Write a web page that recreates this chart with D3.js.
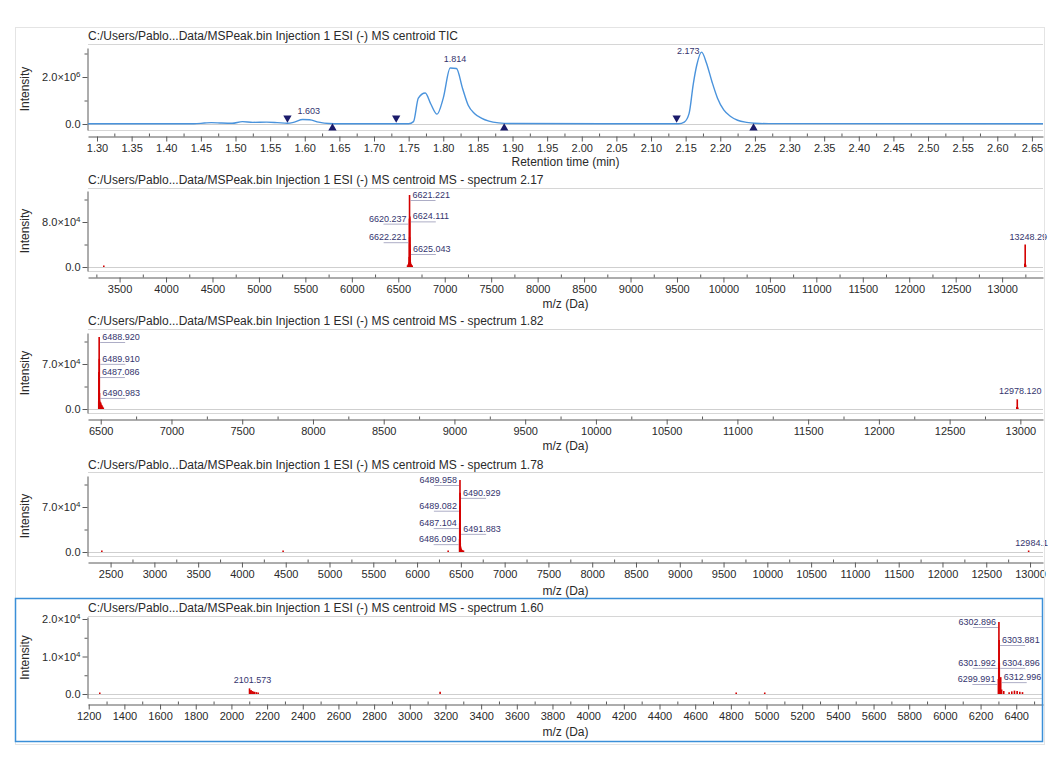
<!DOCTYPE html>
<html><head><meta charset="utf-8">
<script src="https://cdn.jsdelivr.net/npm/d3@7"></script>
<style>
body{margin:0;background:#fff}
text{font-family:"Liberation Sans",Arial,sans-serif}
</style>
</head><body>
<script>
// ================= DATA =================
const panelTitles = [
  "C:/Users/Pablo...Data/MSPeak.bin Injection 1 ESI (-) MS centroid TIC",
  "C:/Users/Pablo...Data/MSPeak.bin Injection 1 ESI (-) MS centroid MS - spectrum 2.17",
  "C:/Users/Pablo...Data/MSPeak.bin Injection 1 ESI (-) MS centroid MS - spectrum 1.82",
  "C:/Users/Pablo...Data/MSPeak.bin Injection 1 ESI (-) MS centroid MS - spectrum 1.78",
  "C:/Users/Pablo...Data/MSPeak.bin Injection 1 ESI (-) MS centroid MS - spectrum 1.60"
];
const xAxisTitles = ["Retention time (min)", "m/z (Da)", "m/z (Da)", "m/z (Da)", "m/z (Da)"];
const yAxisTitle = "Intensity";

// TIC chromatogram
const ticTime = [1.287,1.44,1.455,1.465,1.48,1.495,1.51,1.525,1.545,1.56,1.575,1.585,1.597,1.607,1.62,1.635,1.65,1.75,1.757,1.764,1.774,1.782,1.791,1.80,1.81,1.819,1.828,1.836,1.845,1.855,1.866,1.88,1.90,2.14,2.148,2.155,2.161,2.166,2.173,2.18,2.188,2.196,2.205,2.215,2.225,2.238,2.25,2.27,2.666];
const ticIntensity = [0.01e6,0.01e6,0.04e6,0.06e6,0.04e6,0.03e6,0.1e6,0.07e6,0.08e6,0.06e6,0.03e6,0.08e6,0.19e6,0.18e6,0.08e6,0.02e6,0.01e6,0.01e6,0.1e6,1.1e6,1.32e6,0.85e6,0.42e6,1.1e6,2.38e6,2.36e6,1.5e6,0.8e6,0.45e6,0.25e6,0.12e6,0.05e6,0.02e6,0.01e6,0.08e6,0.45e6,1.7e6,2.5e6,3.06e6,2.6e6,1.8e6,1.1e6,0.6e6,0.32e6,0.16e6,0.07e6,0.03e6,0.015e6,0.01e6];
const ticPeakTimes = [1.603, 1.814, 2.173];
const ticPeakLabels = ["1.603", "1.814", "2.173"];
const ticPeakHeights = [0.19e6, 2.38e6, 3.06e6];
const ticPeakStart = [1.575, 1.732, 2.137];
const ticPeakEnd = [1.640, 1.888, 2.248];
const ticXTicks = d3.range(1.30, 2.6501, 0.05);
const ticXMinor = d3.range(1.325, 2.67, 0.05);
const ticYTicks = [0, 2e6];
const ticYMinor = [1e6, 3e6];

// Spectrum 2.17
const s217Mz  = [3330, 6600, 6608, 6614, 6618, 6620.237, 6621.221, 6622.221, 6623.2, 6624.111, 6625.043, 6627, 6630, 6634, 6638, 6643, 6650, 13244, 13248.29, 13253];
const s217Int = [1.5e3, 3e3, 5e3, 8e3, 1.8e4, 8.6e4, 1.28e5, 5.3e4, 4.0e4, 9.0e4, 3.2e4, 1.4e4, 9e3, 6e3, 5e3, 3e3, 2e3, 6e3, 4.0e4, 4e3];
const s217Labels = ["6621.221","6620.237","6624.111","6622.221","6625.043","13248.29"];
const s217XTicks = d3.range(3500, 13001, 500);
const s217XMinor = d3.range(3250, 13400, 500);
const s217YTicks = [0, 8e4];
const s217YMinor = [4e4, 1.2e5];

// Spectrum 1.82
const s182Mz  = [6486, 6487.086, 6488.920, 6489.910, 6490.983, 6492, 6494, 6497, 6500, 6504, 6508, 6512, 6518, 12975, 12978.12, 12982];
const s182Int = [1.2e4, 5.75e4, 1.12e5, 7.8e4, 2.5e4, 1.3e4, 1.1e4, 9e3, 1.0e4, 7e3, 6e3, 4e3, 2e3, 3e3, 1.5e4, 2e3];
const s182Labels = ["6488.920","6489.910","6487.086","6490.983","12978.120"];
const s182XTicks = d3.range(6500, 13001, 500);
const s182XMinor = d3.range(6750, 13200, 500);
const s182YTicks = [0, 7e4];
const s182YMinor = [3.5e4, 1.05e5];

// Spectrum 1.78
const s178Mz  = [2400, 4470, 6355, 6486.090, 6487.104, 6488.1, 6489.082, 6489.958, 6490.929, 6491.883, 6493, 6495, 6498, 6502, 6507, 6512, 6520, 6530, 12984.1];
const s178Int = [1e3, 1.2e3, 2e3, 2.0e4, 4.5e4, 3.0e4, 7.2e4, 1.12e5, 9.2e4, 3.6e4, 1.5e4, 9e3, 7e3, 5e3, 4e3, 3e3, 2.5e3, 2e3, 2e3];
const s178Labels = ["6489.958","6490.929","6489.082","6487.104","6491.883","6486.090","12984.1"];
const s178XTicks = d3.range(2500, 13001, 500);
const s178XMinor = d3.range(2750, 13200, 500);
const s178YTicks = [0, 7e4];
const s178YMinor = [3.5e4, 1.05e5];

// Spectrum 1.60
const s160Mz  = [1262, 2101.573, 2105, 2110, 2116, 2122, 2130, 2140, 2150, 3170, 4830, 4990, 6299.991, 6301.992, 6302.896, 6303.881, 6304.896, 6306, 6308, 6312.996, 6318, 6330, 6360, 6375, 6390, 6405, 6420, 6435];
const s160Int = [300, 1500, 900, 1100, 800, 700, 600, 500, 400, 600, 300, 400, 4.0e3, 8.3e3, 1.92e4, 1.44e4, 8.3e3, 3e3, 2e3, 4.5e3, 1.2e3, 800, 500, 700, 900, 800, 600, 500];
const s160Labels = ["2101.573","6302.896","6303.881","6301.992","6304.896","6299.991","6312.996"];
const s160XTicks = d3.range(1200, 6401, 200);
const s160XMinor = d3.range(1300, 6600, 200);
const s160YTicks = [0, 1e4, 2e4];
const s160YMinor = [5e3, 1.5e4];

// ================= LAYOUT =================
const W = 1050, H = 757, PX0 = 88, PX1 = 1043;
const layouts = [
  {titleY:40,  frameTop:44,  plotTop:48,  y0:124, refPx:77,  plotBottom:130, axisY:136, axisTitleY:166},
  {titleY:184, frameTop:188, plotTop:191, y0:267, refPx:222, plotBottom:271, axisY:277, axisTitleY:308},
  {titleY:325, frameTop:329, plotTop:333, y0:409, refPx:364, plotBottom:413, axisY:419, axisTitleY:450},
  {titleY:469, frameTop:472, plotTop:476, y0:552, refPx:507, plotBottom:556, axisY:562, axisTitleY:595},
  {titleY:612, frameTop:616, plotTop:617, y0:694, refPx:619, plotBottom:698, axisY:704, axisTitleY:736}
];
const xDomains = [[1.287, 2.666], [3160, 13440], [6410, 13160], [2242, 13148], [1196, 6550]];
// label side for each labelled peak: R right, L left, C centred above
const labelSides = [
  null,
  ["R","L","R","L","R","C"],
  ["R","R","R","R","C"],
  ["L","R","L","L","R","L","C"],
  ["C","L","R","L","R","L","R"]
];

const C = {
  axis:"#5a5a5a", frame:"#d6d6d6", base:"#cfcfcf", text:"#2a2a2a",
  tic:"#4a93dc", marker:"#1b1b6b", bar:"#d40000", label:"#34346e", leader:"#8a8aae"
};

const svg = d3.select("body").append("svg").attr("width", W).attr("height", H);
svg.append("rect").attr("width", W).attr("height", H).attr("fill", "#fff");
svg.append("defs").append("clipPath").attr("id","clipAll")
  .append("rect").attr("x",0).attr("y",0).attr("width",1048).attr("height",H);
const root = svg.append("g").attr("clip-path","url(#clipAll)");

// outer light border + highlighted last panel
svg.append("rect").attr("x",15.5).attr("y",27.5).attr("width",1029).attr("height",717)
  .attr("fill","none").attr("stroke","#e4e4e4");
svg.append("rect").attr("x",15.5).attr("y",598.5).attr("width",1027).attr("height",143)
  .attr("fill","none").attr("stroke","#3b8fd8").attr("stroke-width",1.5);

function fmtSci(d){
  if (d === 0) return {m:"0.0", e:null};
  const e = Math.floor(Math.log10(d) + 1e-9);
  return {m:(d/Math.pow(10,e)).toFixed(1) + "\u00d710", e:String(e)};
}

function drawFrame(i, xDomain, yTicks, yMinor, refVal, xTicks, xMinor, xFmt){
  const L = layouts[i];
  const g = root.append("g");
  const x = d3.scaleLinear().domain(xDomain).range([PX0, PX1]);
  const k = (L.y0 - L.refPx) / refVal;
  const y = d3.scaleLinear()
    .domain([(L.y0 - L.plotBottom)/k, (L.y0 - L.plotTop)/k])
    .range([L.plotBottom, L.plotTop]);

  g.append("text").attr("x", PX0).attr("y", L.titleY).attr("font-size", 12)
    .attr("fill", C.text).text(panelTitles[i]);
  g.append("line").attr("x1", PX0).attr("x2", PX1).attr("y1", L.frameTop+0.5).attr("y2", L.frameTop+0.5)
    .attr("stroke", C.frame);
  g.append("line").attr("x1", PX0).attr("x2", PX1).attr("y1", L.plotBottom+0.5).attr("y2", L.plotBottom+0.5)
    .attr("stroke", C.frame);
  g.append("line").attr("x1", PX0).attr("x2", PX1).attr("y1", Math.round(y(0))+0.5).attr("y2", Math.round(y(0))+0.5)
    .attr("stroke", C.base);

  // y axis
  const ya = g.append("g").attr("transform", `translate(${PX0-0.5},0)`)
    .call(d3.axisLeft(y).tickValues(yTicks).tickSize(5).tickPadding(2).tickSizeOuter(0).tickFormat(""));
  ya.selectAll(".tick text").each(function(d){
    const t = d3.select(this), f = fmtSci(d);
    t.append("tspan").text(f.m);
    if (f.e) t.append("tspan").attr("dy","-0.5em").attr("font-size",8).text(f.e);
  });
  g.append("g").attr("transform", `translate(${PX0-0.5},0)`)
    .call(d3.axisLeft(y).tickValues(yMinor).tickSize(3).tickSizeOuter(0).tickFormat(""))
    .select(".domain").remove();
  ya.selectAll("text").attr("font-size", 11).attr("fill", C.text).attr("font-family","Liberation Sans, Arial, sans-serif");

  // x axis
  const xa = g.append("g").attr("transform", `translate(0,${L.axisY+0.5})`)
    .call(d3.axisBottom(x).tickValues(xTicks).tickSize(5).tickPadding(3).tickSizeOuter(0).tickFormat(xFmt));
  xa.selectAll("text").attr("font-size", 11).attr("fill", C.text).attr("font-family","Liberation Sans, Arial, sans-serif");
  g.append("g").attr("transform", `translate(0,${L.axisY+0.5})`)
    .call(d3.axisBottom(x).tickValues(xMinor.filter(v => v > xDomain[0] && v < xDomain[1])).tickSize(-3).tickSizeOuter(0).tickFormat(""))
    .select(".domain").remove();
  g.selectAll(".domain, .tick line").attr("stroke", C.axis);

  g.append("text").attr("x", (PX0+PX1)/2).attr("y", L.axisTitleY).attr("text-anchor","middle")
    .attr("font-size", 12).attr("fill", C.text).text(xAxisTitles[i]);
  g.append("text").attr("transform", `translate(29,${(L.plotTop+L.plotBottom)/2}) rotate(-90)`)
    .attr("text-anchor","middle").attr("font-size", 12).attr("fill", C.text).text(yAxisTitle);
  return {g, x, y};
}

// ---- Panel 1: TIC ----
(function(){
  const {g, x, y} = drawFrame(0, xDomains[0], ticYTicks, ticYMinor, 2e6, ticXTicks, ticXMinor, d3.format(".2f"));
  const pts = ticTime.map((t, j) => [t, ticIntensity[j]]);
  g.append("path").datum(pts)
    .attr("d", d3.line().x(d => x(d[0])).y(d => y(d[1])).curve(d3.curveMonotoneX))
    .attr("fill","none").attr("stroke", C.tic).attr("stroke-width", 1.4);
  const tri = d3.symbol().type(d3.symbolTriangle).size(30);
  ticPeakStart.forEach(t => g.append("path").attr("d", tri())
    .attr("transform", `translate(${x(t)},${y(0)-6}) rotate(180)`).attr("fill", C.marker));
  ticPeakEnd.forEach(t => g.append("path").attr("d", tri())
    .attr("transform", `translate(${x(t)},${y(0)+4})`).attr("fill", C.marker));
  ticPeakTimes.forEach((t, j) => {
    const last = j === ticPeakTimes.length - 1;
    g.append("text").attr("x", last ? x(t) - 2 : x(t) + 2)
      .attr("y", last ? y(ticPeakHeights[j]) + 2 : y(ticPeakHeights[j]) - 6)
      .attr("text-anchor", last ? "end" : "middle")
      .attr("font-size", 9).attr("fill", C.label).text(ticPeakLabels[j]);
  });
})();

// ---- Spectrum panels ----
function drawSpectrum(i, mz, inten, labels, yTicks, yMinor, refVal, xTicks, xMinor){
  const {g, x, y} = drawFrame(i, xDomains[i], yTicks, yMinor, refVal, xTicks, xMinor, d3.format("d"));
  const data = mz.map((m, j) => ({m, v: inten[j]}));
  g.append("g").selectAll("line").data(data).join("line")
    .attr("x1", d => x(d.m)).attr("x2", d => x(d.m))
    .attr("y1", y(0)).attr("y2", d => Math.min(y(d.v), y(0) - 1.5))
    .attr("stroke", C.bar).attr("stroke-width", 1.6);
  const sides = labelSides[i];
  labels.forEach((lab, j) => {
    const m = +lab;
    const d = data.reduce((a, b) => Math.abs(b.m - m) < Math.abs(a.m - m) ? b : a);
    const px = x(d.m), py = y(d.v), s = sides[j];
    const t = g.append("text").attr("font-size", 9).attr("fill", C.label).text(lab);
    if (s === "C") {
      t.attr("x", px + 3).attr("y", py - 5).attr("text-anchor", "middle");
    } else {
      const dir = s === "R" ? 1 : -1;
      t.attr("x", px + dir*3).attr("y", py + 3).attr("text-anchor", s === "R" ? "start" : "end");
      g.append("line").attr("x1", px + dir*1).attr("x2", px + dir*26)
        .attr("y1", py + 5.5).attr("y2", py + 5.5)
        .attr("stroke", C.leader).attr("stroke-width", 0.7);
    }
  });
}
drawSpectrum(1, s217Mz, s217Int, s217Labels, s217YTicks, s217YMinor, 8e4, s217XTicks, s217XMinor);
drawSpectrum(2, s182Mz, s182Int, s182Labels, s182YTicks, s182YMinor, 7e4, s182XTicks, s182XMinor);
drawSpectrum(3, s178Mz, s178Int, s178Labels, s178YTicks, s178YMinor, 7e4, s178XTicks, s178XMinor);
drawSpectrum(4, s160Mz, s160Int, s160Labels, s160YTicks, s160YMinor, 2e4, s160XTicks, s160XMinor);
</script>
</body></html>
